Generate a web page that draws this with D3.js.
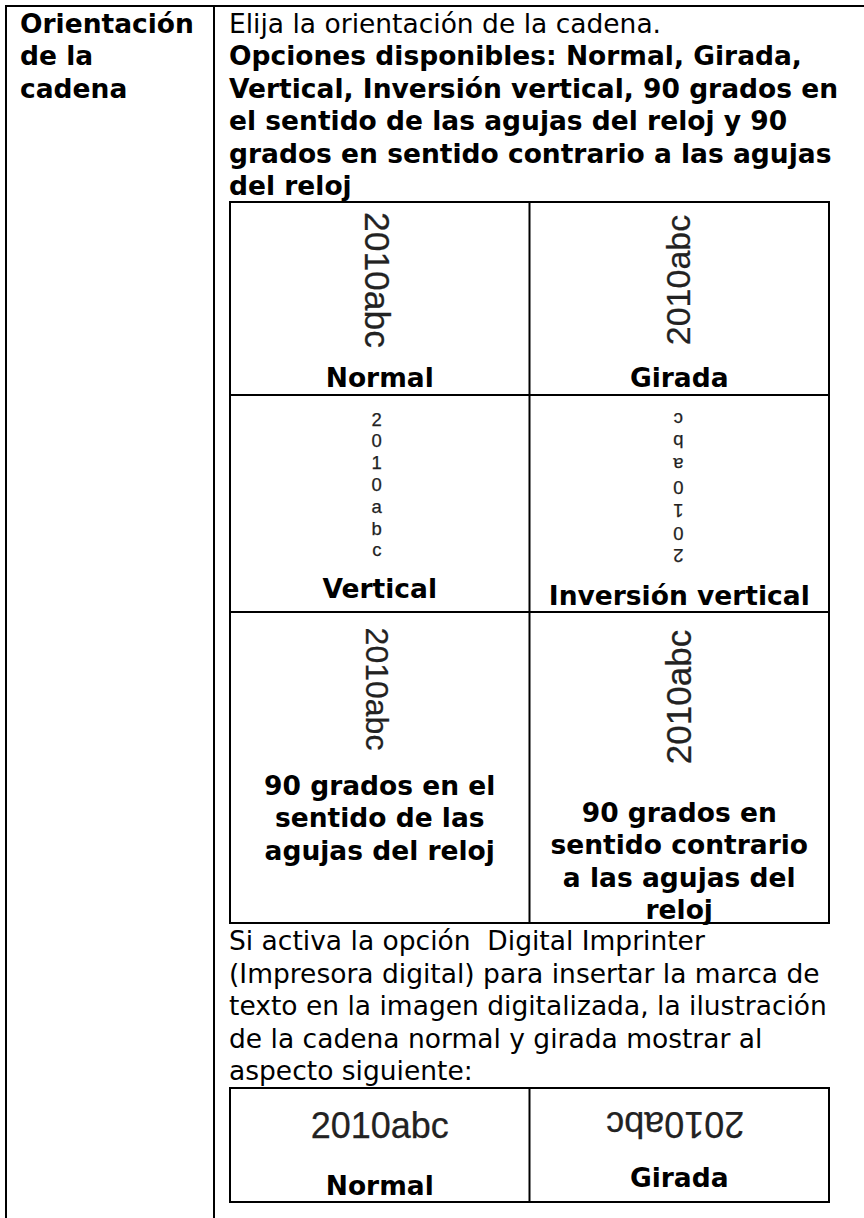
<!DOCTYPE html>
<html><head><meta charset="utf-8">
<script src="https://cdn.jsdelivr.net/npm/d3@7"></script>
<style>html,body{margin:0;padding:0;background:#fff;}svg{display:block}</style>
</head><body>
<svg id="c" width="864" height="1218"></svg>
<script>
// ---- content ----
const headerLines = ["Orientación", "de la", "cadena"];
const introRegular = ["Elija la orientación de la cadena."];
const introBold = [
  "Opciones disponibles: Normal, Girada,",
  "Vertical, Inversión vertical, 90 grados en",
  "el sentido de las agujas del reloj y 90",
  "grados en sentido contrario a las agujas",
  "del reloj"
];
const sampleText = "2010abc";
const optionModes = ["cw", "ccw", "stack", "stackFlip", "cw", "ccw"];
const optionLabels = [
  ["Normal"], ["Girada"], ["Vertical"], ["Inversión vertical"],
  ["90 grados en el", "sentido de las", "agujas del reloj"],
  ["90 grados en", "sentido contrario", "a las agujas del", "reloj"]
];
const imprinterLines = [
  "Si activa la opción  Digital Imprinter",
  "(Impresora digital) para insertar la marca de",
  "texto en la imagen digitalizada, la ilustración",
  "de la cadena normal y girada mostrar al",
  "aspecto siguiente:"
];
const imprinterModes = ["normal", "flip"];
const imprinterLabels = [["Normal"], ["Girada"]];

// ---- layout ----
const W = 864, H = 1218;
const FONT = "'DejaVu Sans', Verdana, sans-serif";
const IMGFONT = "'Liberation Sans', Arial, sans-serif";
const FS = 26.5, LH = 32.4;
const svg = d3.select("#c");
const line = (x1, y1, x2, y2) => svg.append("line")
  .attr("x1", x1).attr("y1", y1).attr("x2", x2).attr("y2", y2)
  .attr("stroke", "#000").attr("stroke-width", 2);

// outer table
line(5, 6, W, 6);
line(6, 5, 6, H);
line(214, 5, 214, H);

// left header
svg.append("g").selectAll("text").data(headerLines).join("text")
  .attr("x", 20).attr("y", (d, i) => 33 + i * LH)
  .attr("font-family", FONT).attr("font-size", FS).attr("font-weight", "bold")
  .text(d => d);

// intro text
const intro = introRegular.map(t => ({t, b: false})).concat(introBold.map(t => ({t, b: true})));
svg.append("g").selectAll("text").data(intro).join("text")
  .attr("x", 229).attr("y", (d, i) => 33 + i * LH)
  .attr("font-family", FONT).attr("font-size", FS)
  .attr("font-weight", d => d.b ? "bold" : "normal")
  .text(d => d.t);

// inner option table
const colX = d3.scaleLinear().domain([0, 2]).range([230, 829]);
const rowEdges = [202, 395, 612, 923];
const nRows = rowEdges.length - 1;
rowEdges.forEach(y => line(colX(0) - 1, y, colX(2) + 1, y));
[0, 1, 2].forEach(c => line(colX(c), rowEdges[0] - 1, colX(c), rowEdges[nRows] + 1));

// image-like sample drawings per cell
const imgSpec = [
  {cy: 280, fs: 35.5},
  {cy: 280, fs: 34},
  {cy: 484.5, fs: 18.5, step: 21.8},
  {cy: 487.5, fs: 18.5, step: 22.8},
  {cy: 689, fs: 32},
  {cy: 697, fs: 35}
];
const labelBase = [[387], [387], [598], [605], [795], [822]];
optionModes.forEach((mode, k) => {
  const col = k % 2;
  const cx = (colX(col) + colX(col + 1)) / 2 + (col === 0 ? -3 : -1);
  const s = imgSpec[k];
  const g = svg.append("g").attr("fill", "#222").attr("stroke", "#222").attr("stroke-width", 0.25);
  if (mode === "cw" || mode === "ccw") {
    g.append("text")
      .attr("transform", `translate(${cx},${s.cy}) rotate(${mode === "cw" ? 90 : -90})`)
      .attr("text-anchor", "middle").attr("dominant-baseline", "central")
      .attr("font-family", IMGFONT).attr("font-size", s.fs)
      .text(sampleText);
  } else {
    const chars = sampleText.split("");
    const gg = g.append("g")
      .attr("transform", `translate(${cx},${s.cy}) rotate(${mode === "stackFlip" ? 180 : 0})`);
    gg.selectAll("text").data(chars).join("text")
      .attr("x", 0).attr("y", (d, i) => (i - (chars.length - 1) / 2) * s.step)
      .attr("text-anchor", "middle").attr("dominant-baseline", "central")
      .attr("font-family", IMGFONT).attr("font-size", s.fs)
      .text(d => d);
  }
  const lx = (colX(col) + colX(col + 1)) / 2;
  svg.append("g").selectAll("text").data(optionLabels[k]).join("text")
    .attr("x", lx).attr("y", (d, i) => labelBase[k][0] + i * LH)
    .attr("text-anchor", "middle")
    .attr("font-family", FONT).attr("font-size", FS).attr("font-weight", "bold")
    .text(d => d);
});

// imprinter paragraph
svg.append("g").selectAll("text").data(imprinterLines).join("text")
  .attr("x", 229).attr("y", (d, i) => 950.4 + i * LH)
  .attr("font-family", FONT).attr("font-size", FS)
  .style("white-space", "pre")
  .text(d => d);

// imprinter table
const bRows = [1088, 1202];
bRows.forEach(y => line(colX(0) - 1, y, colX(2) + 1, y));
[0, 1, 2].forEach(c => line(colX(c), bRows[0] - 1, colX(c), bRows[1] + 1));
const impLabelBase = [1195, 1187];
imprinterModes.forEach((mode, col) => {
  const cx = (colX(col) + colX(col + 1)) / 2;
  svg.append("text")
    .attr("transform", mode === "flip"
      ? `translate(${cx - 4},${1124}) rotate(180)`
      : `translate(${cx},${1125})`)
    .attr("text-anchor", "middle").attr("dominant-baseline", "central")
    .attr("font-family", IMGFONT).attr("font-size", 36)
    .attr("fill", "#222").attr("stroke", "#222").attr("stroke-width", 0.25)
    .text(sampleText);
  svg.append("g").selectAll("text").data(imprinterLabels[col]).join("text")
    .attr("x", cx).attr("y", impLabelBase[col])
    .attr("text-anchor", "middle")
    .attr("font-family", FONT).attr("font-size", FS).attr("font-weight", "bold")
    .text(d => d);
});
</script>
</body></html>
